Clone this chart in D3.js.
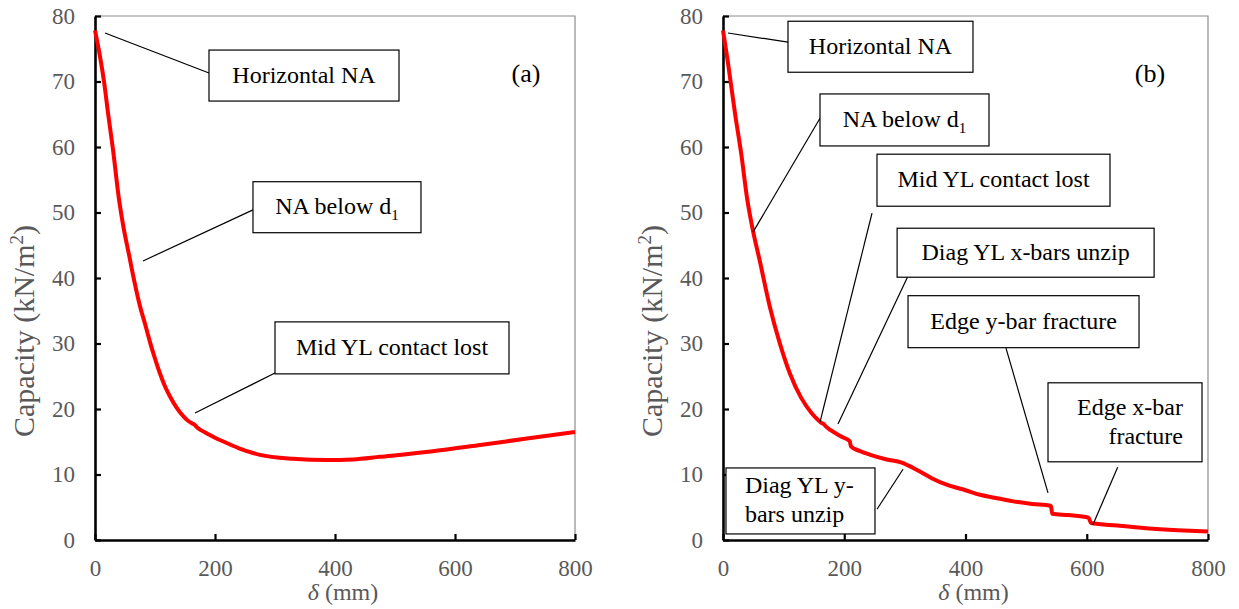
<!DOCTYPE html>
<html>
<head>
<meta charset="utf-8">
<script src="https://cdn.jsdelivr.net/npm/d3@7"></script>
<style>
  body { margin: 0; background: #fff; }
  svg { display: block; }
</style>
</head>
<body>
<svg id="chart" width="1239" height="609"></svg>
<script>
// panel (a) capacity curve
const deltaA = [0, 8, 15, 22, 30, 40, 47, 57, 66, 75, 84, 92, 100, 108, 116, 125, 136, 147, 155, 162, 166, 170, 178, 186, 200, 215, 240, 275, 330, 387, 430, 475, 560, 642, 720, 800]
const capA = [77.8, 74, 70, 65, 59.6, 52, 48, 43.4, 39.3, 35.7, 32.8, 30.1, 27.7, 25.5, 23.6, 21.9, 20.2, 18.9, 18.2, 17.8, 17.6, 17.2, 16.7, 16.3, 15.6, 15.0, 14.0, 13.0, 12.4, 12.2, 12.3, 12.7, 13.5, 14.5, 15.5, 16.5]

// panel (b) capacity curve
const deltaB = [0, 8, 20, 30, 40, 49.5, 60, 77, 93.5, 110, 129, 146, 156, 162, 166, 170, 177, 195, 209, 211, 225, 243, 270, 295, 305, 320, 345, 370, 400, 424, 450, 479, 510, 541, 543, 570, 603, 607, 650, 698, 750, 800]
const capB = [77.8, 73, 65, 59, 52, 47.2, 42.9, 35.7, 30.1, 25.5, 21.7, 19.4, 18.4, 17.9, 17.7, 17.3, 16.8, 15.8, 15.1, 14.3, 13.6, 13.0, 12.3, 11.8, 11.4, 10.7, 9.4, 8.4, 7.6, 6.9, 6.4, 5.9, 5.5, 5.2, 4.0, 3.8, 3.4, 2.6, 2.2, 1.8, 1.5, 1.3]

const xTicks = [0, 200, 400, 600, 800]
const yTicks = [0, 10, 20, 30, 40, 50, 60, 70, 80]

// annotations: text lines, leader start [delta, cap], leader end [delta, cap], box top-left [delta, cap]
const notesA = [
  { lines: ["Horizontal NA"], from: [16.7, 77.4], to: [190, 71.3], box: [190, 74.8], w: 190, h: 51 },
  { lines: ["NA below d|1"], from: [80, 42.6], to: [263.3, 50.4], box: [263.3, 54.7], w: 168, h: 51 },
  { lines: ["Mid YL contact lost"], from: [166.7, 19.4], to: [300, 25.5], box: [300, 33.3], w: 234, h: 52 }
]
const notesB = [
  { lines: ["Horizontal NA"], from: [8.2, 77.4], to: [107.2, 76.0], box: [107.2, 79.2], w: 185, h: 51 },
  { lines: ["NA below d|1"], from: [49.5, 47.0], to: [160, 64.4], box: [160, 68.1], w: 169, h: 52 },
  { lines: ["Mid YL contact lost"], from: [160, 18.0], to: [245.8, 49.9], box: [254, 58.9], w: 233, h: 52 },
  { lines: ["Diag YL x-bars unzip"], from: [189.7, 17.7], to: [305.2, 40.3], box: [287.2, 47.6], w: 257, h: 49 },
  { lines: ["Edge y-bar fracture"], from: [536.1, 7.2], to: [466.8, 29.3], box: [305.2, 37.3], w: 231, h: 52 },
  { lines: ["Edge x-bar", "fracture"], from: [610, 2.3], to: [651, 11.1], box: [536.1, 24.0], w: 154, h: 79, align: "right" },
  { lines: ["Diag YL y-", "bars unzip"], from: [297, 10.8], to: [254, 4.7], box: [4.9, 11.0], w: 149, h: 66, align: "left" }
]

const svg = d3.select("#chart")
const serif = "'Liberation Serif', 'Times New Roman', serif"

function drawPanel(opt) {
  const x = d3.scaleLinear().domain([0, 800]).range([opt.left, opt.right])
  const y = d3.scaleLinear().domain([0, 80]).range([540, 16])
  const g = svg.append("g")

  // frame top / right
  g.append("path")
    .attr("d", "M" + opt.left + ",16H" + opt.right + "V540")
    .attr("fill", "none")
    .attr("stroke", "#8c8c8c")
    .attr("stroke-width", 1.2)

  const xAxis = g.append("g")
    .attr("transform", "translate(0,540)")
    .call(d3.axisBottom(x).tickValues(xTicks).tickSize(-6).tickSizeOuter(0).tickPadding(20))
  const yAxis = g.append("g")
    .attr("transform", "translate(" + opt.left + ",0)")
    .call(d3.axisLeft(y).tickValues(yTicks).tickSize(-6).tickSizeOuter(0).tickPadding(20))

  ;[xAxis, yAxis].forEach(a => {
    a.select(".domain").attr("stroke", "#000").attr("stroke-width", 2.6)
    a.selectAll(".tick line").attr("stroke", "#000").attr("stroke-width", 2.2)
    a.selectAll(".tick text")
      .attr("fill", "#595959")
      .style("font-family", serif)
      .style("font-size", "23px")
  })

  // axis titles
  const xt = g.append("text")
    .attr("x", (opt.left + opt.right) / 2 + 8)
    .attr("y", 600)
    .attr("text-anchor", "middle")
    .attr("fill", "#595959")
    .style("font-family", serif)
    .style("font-size", "24px")
  xt.append("tspan").style("font-style", "italic").text("δ")
  xt.append("tspan").text(" (mm)")

  const yt = g.append("text")
    .attr("transform", "translate(" + (opt.left - 61) + ",331) rotate(-90)")
    .attr("text-anchor", "middle")
    .attr("fill", "#595959")
    .style("font-family", serif)
    .style("font-size", "30px")
  yt.append("tspan").text("Capacity (kN/m")
  yt.append("tspan").attr("dy", -11).style("font-size", "19px").text("2")
  yt.append("tspan").attr("dy", 11).text(")")

  // curve
  const line = d3.line()
    .x((d, i) => x(opt.delta[i]))
    .y(d => y(d))
    .curve(d3.curveMonotoneX)
  g.append("path")
    .datum(opt.cap)
    .attr("d", line)
    .attr("fill", "none")
    .attr("stroke", "#ff0000")
    .attr("stroke-width", 4)
    .attr("stroke-linejoin", "round")

  // annotation leaders and boxes
  opt.notes.forEach(n => {
    g.append("line")
      .attr("x1", x(n.from[0])).attr("y1", y(n.from[1]))
      .attr("x2", x(n.to[0])).attr("y2", y(n.to[1]))
      .attr("stroke", "#000").attr("stroke-width", 1.2)

    const bx = x(n.box[0]), by = y(n.box[1])
    g.append("rect")
      .attr("x", bx).attr("y", by)
      .attr("width", n.w).attr("height", n.h)
      .attr("fill", "#fff")
      .attr("stroke", "#000")
      .attr("stroke-width", 1.2)

    const lh = 29
    const top = by + n.h / 2 - (n.lines.length - 1) * lh / 2 + 7
    n.lines.forEach((l, i) => {
      let tx = bx + n.w / 2, anchor = "middle"
      if (n.align === "right") { tx = bx + n.w - 19; anchor = "end" }
      if (n.align === "left") { tx = bx + 19; anchor = "start" }
      const t = g.append("text")
        .attr("x", tx)
        .attr("y", top + i * lh)
        .attr("text-anchor", anchor)
        .attr("fill", "#000")
        .style("font-family", serif)
        .style("font-size", "24px")
      const parts = l.split("|")
      t.append("tspan").text(parts[0])
      if (parts[1]) t.append("tspan").attr("dy", 6).style("font-size", "15px").text(parts[1])
    })
  })

  g.append("text")
    .attr("x", opt.tagX)
    .attr("y", 82)
    .attr("text-anchor", "middle")
    .style("font-family", serif)
    .style("font-size", "26px")
    .text(opt.tag)
}

drawPanel({ left: 95, right: 575, delta: deltaA, cap: capA, notes: notesA, tag: "(a)", tagX: 526 })
drawPanel({ left: 723, right: 1208, delta: deltaB, cap: capB, notes: notesB, tag: "(b)", tagX: 1150 })
</script>
</body>
</html>
